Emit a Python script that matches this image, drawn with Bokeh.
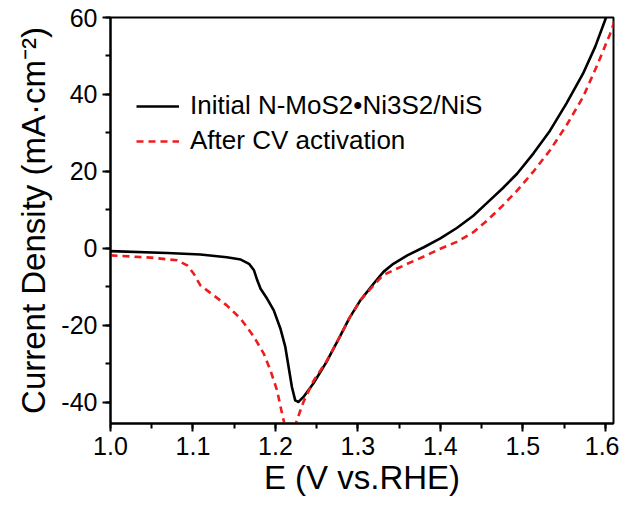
from bokeh.plotting import figure
from bokeh.models import Range1d, Legend, LegendItem, SingleIntervalTicker, CustomJSTickFormatter
from bokeh.embed import file_html
from bokeh.resources import INLINE

# Initial N-MoS2•Ni3S2/NiS (black solid)
e_initial = [1.000, 1.069, 1.109, 1.141, 1.158, 1.168, 1.174, 1.178, 1.182, 1.190,
             1.198, 1.206, 1.212, 1.216, 1.220, 1.224, 1.228, 1.234, 1.246, 1.262,
             1.278, 1.290, 1.303, 1.319, 1.331, 1.343, 1.360, 1.380, 1.400, 1.420,
             1.440, 1.457, 1.475, 1.493, 1.513, 1.533, 1.553, 1.573, 1.588, 1.601]
j_initial = [-0.7, -1.2, -1.6, -2.3, -2.9, -4.0, -5.7, -8.3, -10.5, -13.1,
             -16.1, -20.8, -25.6, -30.8, -36.0, -39.5, -39.9, -38.6, -35.1, -29.5,
             -23.0, -18.0, -13.5, -9.2, -6.1, -4.0, -1.8, 0.3, 2.6, 5.3,
             8.5, 11.9, 15.5, 19.4, 24.7, 30.6, 37.7, 45.4, 52.5, 60.0]

# After CV activation (red dashed)
e_after = [1.000, 1.049, 1.081, 1.093, 1.101, 1.109, 1.125, 1.141, 1.158, 1.174,
           1.186, 1.194, 1.202, 1.208, 1.212, 1.2175, 1.223, 1.234, 1.246, 1.262,
           1.278, 1.290, 1.303, 1.319, 1.331, 1.343, 1.360, 1.380, 1.400, 1.420,
           1.440, 1.457, 1.475, 1.493, 1.513, 1.533, 1.553, 1.573, 1.590, 1.606, 1.612]
j_after = [-1.8, -2.4, -3.1, -4.4, -6.6, -9.6, -12.2, -14.8, -18.3, -23.0,
           -27.4, -31.7, -36.9, -42.9, -46.5, -48.0, -46.5, -39.9, -34.5, -29.3,
           -23.0, -18.0, -13.5, -9.6, -6.9, -5.7, -4.0, -2.1, -0.1, 1.7,
           4.2, 7.3, 11.0, 15.0, 20.0, 25.5, 32.0, 39.3, 47.5, 55.8, 59.5]

series_labels = ["Initial N-MoS2\u2022Ni3S2/NiS", "After CV activation"]
x_label = "E (V vs.RHE)"
y_label = "Current Density (mA\u00b7cm\u207b\u00b2)"

FONT = "Liberation Sans"

p = figure(width=619, height=506, output_backend="svg", toolbar_location=None,
           x_range=Range1d(1.0, 1.61), y_range=Range1d(-45.5, 60),
           min_border_left=110, min_border_right=6, min_border_top=17, min_border_bottom=83)
p.background_fill_color = "white"
p.border_fill_color = "white"
p.grid.visible = False
p.outline_line_color = "black"
p.outline_line_width = 2
p.outline_line_alpha = 1

r1 = p.line(e_initial, j_initial, line_color="black", line_width=2.6, line_join="round")
r2 = p.line(e_after, j_after, line_color="#ee1c1c", line_width=2.6, line_dash="7 5")

p.xaxis.ticker = SingleIntervalTicker(interval=0.1, num_minor_ticks=2)
p.yaxis.ticker = SingleIntervalTicker(interval=20, num_minor_ticks=2)
p.xaxis.formatter = CustomJSTickFormatter(code="return tick.toFixed(1);")
p.yaxis.formatter = CustomJSTickFormatter(code="return tick.toFixed(0);")

for ax in (p.xaxis[0], p.yaxis[0]):
    ax.axis_line_width = 2
    ax.major_tick_line_width = 2
    ax.minor_tick_line_width = 2
    ax.major_tick_out = 8
    ax.major_tick_in = 0
    ax.minor_tick_out = 5
    ax.minor_tick_in = 0
    ax.major_label_text_font = FONT
    ax.major_label_text_font_size = "25px"
    ax.major_label_text_color = "black"
    ax.axis_label_text_font = FONT
    ax.axis_label_text_font_style = "normal"
    ax.axis_label_text_color = "black"

p.xaxis.axis_label = x_label
p.xaxis.axis_label_text_font_size = "33px"
p.xaxis.major_label_standoff = 5
p.xaxis.axis_label_standoff = 1
p.yaxis.axis_label = y_label
p.yaxis.axis_label_text_font_size = "33px"
p.yaxis.major_label_standoff = 5
p.yaxis.axis_label_standoff = 6

legend = Legend(items=[LegendItem(label=series_labels[0], renderers=[r1]),
                       LegendItem(label=series_labels[1], renderers=[r2])],
                location=(26, 267), border_line_color=None, background_fill_alpha=0,
                label_text_font=FONT, label_text_font_size="26px", label_text_color="black",
                glyph_width=43, label_standoff=11, spacing=4, padding=0,
                label_height=24, glyph_height=24)
p.add_layout(legend)

open("out.html", "w").write(file_html(p, INLINE))
